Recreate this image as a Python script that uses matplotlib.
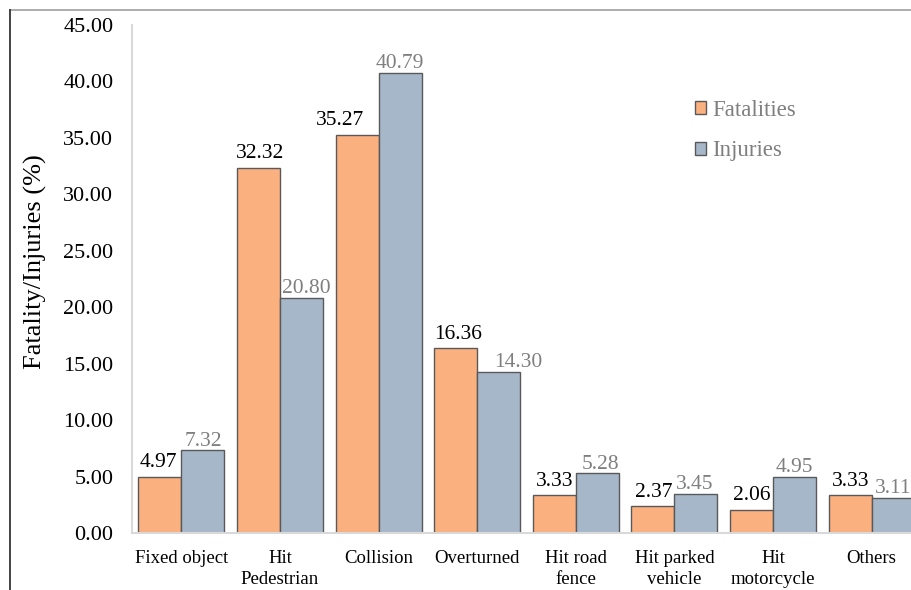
import matplotlib
matplotlib.use("Agg")
import matplotlib.pyplot as plt
import numpy as np
from matplotlib.lines import Line2D

categories = ["Fixed object", "Hit\nPedestrian", "Collision", "Overturned",
              "Hit road\nfence", "Hit parked\nvehicle", "Hit\nmotorcycle", "Others"]
fatalities = [4.97, 32.32, 35.27, 16.36, 3.33, 2.37, 2.06, 3.33]
injuries = [7.32, 20.80, 40.79, 14.30, 5.28, 3.45, 4.95, 3.11]
yticks = [0, 5, 10, 15, 20, 25, 30, 35, 40, 45]

# label nudges (points) to mimic the reference's label placement
fat_dx = [-1, 1, -12, 1.5, 0, 0.5, 0, 0]
inj_dx = [0.5, 3.5, -0.5, 14, 2, -1, 0, 0]

plt.rcParams['font.family'] = ['Liberation Serif', 'DejaVu Serif']

fig = plt.figure(figsize=(9.11, 5.90), dpi=100)
ax = fig.add_axes([132/911, 1-533/590, (921-132)/911, (533-25)/590])

x = np.arange(len(categories))
w = 0.436
c_f = "#FBB07F"
c_i = "#A7B7CA"
ec = "#595959"
ax.bar(x - w/2, fatalities, w, color=c_f, edgecolor=ec, linewidth=1.0, label="Fatalities")
ax.bar(x + w/2, injuries, w, color=c_i, edgecolor=ec, linewidth=1.0, label="Injuries")

for xi, v, dx in zip(x - w/2, fatalities, fat_dx):
    ax.annotate(f"{v:.2f}", (xi, v), xytext=(dx, 7), textcoords="offset points",
                ha="center", va="baseline", fontsize=15.5, color="black")
for xi, v, dx in zip(x + w/2, injuries, inj_dx):
    ax.annotate(f"{v:.2f}", (xi, v), xytext=(dx, 3.5), textcoords="offset points",
                ha="center", va="baseline", fontsize=15.5, color="#7F7F7F")

ax.set_xlim(-0.5, len(categories) - 0.5)
ax.set_ylim(0, 45)
ax.set_yticks(yticks)
ax.set_yticklabels([f"{t:.2f}" for t in yticks], fontsize=16)
ax.set_xticks(x)
ax.set_xticklabels(categories, fontsize=13.5, linespacing=1.3)
ax.tick_params(axis="x", length=0, pad=12)
ax.tick_params(axis="y", length=0, pad=13.5)
ax.set_ylabel("Fatality/Injuries (%)", fontsize=19)
ax.yaxis.label.set_va("center")
ax.yaxis.set_label_coords((35-132)/789, (533-262)/508)

for s in ["top", "right"]:
    ax.spines[s].set_visible(False)
for s in ["left", "bottom"]:
    ax.spines[s].set_color("#D9D9D9")
    ax.spines[s].set_linewidth(1.5)

ax.legend(loc="upper left", bbox_to_anchor=((688-132)/789, (533-93)/508), frameon=False,
          fontsize=16.5, handlelength=0.5, handleheight=0.5, handletextpad=0.25,
          labelspacing=0.85, labelcolor="#7F7F7F", borderaxespad=0, borderpad=0.3)

fig.add_artist(Line2D([10/911, 1.0], [1-10/590, 1-10/590], color="#A0A0A0", linewidth=1.2, transform=fig.transFigure))
fig.add_artist(Line2D([10/911, 10/911], [1-10/590, 0], color="#222222", linewidth=1.2, transform=fig.transFigure))

fig.savefig("out.png", dpi=100)
